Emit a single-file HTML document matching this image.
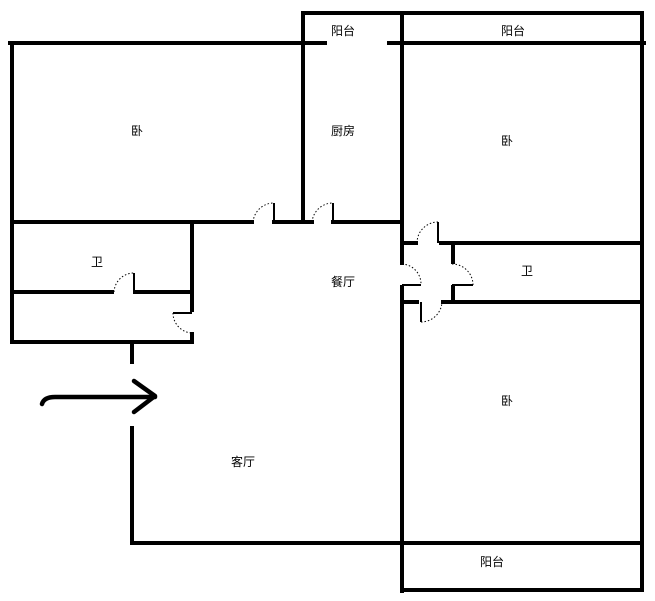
<!DOCTYPE html>
<html><head><meta charset="utf-8"><style>
body{margin:0;background:#fff}
svg{display:block}
text{font-family:"Liberation Sans","Noto Sans CJK SC",sans-serif;font-size:12px;fill:#000;text-anchor:middle;dominant-baseline:middle}
</style></head><body>
<svg width="655" height="601" viewBox="0 0 655 601" xmlns="http://www.w3.org/2000/svg">
<g stroke="#000" stroke-width="4" fill="none" stroke-linecap="square">
<path d="M303 221 V13 H642 V590 H404"/>
<path d="M10 43 H325"/><path d="M389 43 H644"/>
<path d="M402 13 V263"/><path d="M402 287 V591"/>
<path d="M12 43 V342 H192"/>
<path d="M12 222 H252"/><path d="M274 222 H312"/><path d="M333 222 H402"/>
<path d="M192 222 V310"/><path d="M192 334 V342"/>
<path d="M12 292 H112"/><path d="M135 292 H192"/>
<path d="M132 345 V362"/><path d="M132 428 V543 H642"/>
<path d="M402 243 H416"/><path d="M441 243 H642"/>
<path d="M453 243 V262"/><path d="M453 287 V302"/>
<path d="M402 302 H417"/><path d="M443 302 H642"/>
</g>
<g stroke="#000" stroke-width="2" fill="none">
<path d="M274 222 V203"/><path d="M333 222 V203"/>
<path d="M134 292 V273"/><path d="M192 313 H173"/>
<path d="M438 243 V222"/><path d="M452 285 H473"/>
<path d="M402 285 H421"/><path d="M421 302 V322"/>
</g>
<g stroke="#000" stroke-width="1" stroke-dasharray="1.5,2" fill="none">
<path d="M253 222 A21 21 0 0 1 274 203"/>
<path d="M312 222 A21 21 0 0 1 333 203"/>
<path d="M114 292 A20 20 0 0 1 134 273"/>
<path d="M173 313 A20 20 0 0 0 192 333"/>
<path d="M417 243 A21 21 0 0 1 438 222"/>
<path d="M452 264 A21 21 0 0 1 473 285"/>
<path d="M402 264 A20 20 0 0 1 421 284"/>
<path d="M421 322 A21 21 0 0 0 442 302"/>
</g>
<g stroke="#000" stroke-width="4.5" fill="none" stroke-linecap="round" stroke-linejoin="round">
<path d="M42 404 Q44 397 55 397 H155"/>
<path d="M134 381 L155 396 L134 412"/>
</g>
<text x="137" y="132">卧</text>
<text x="343" y="132">厨房</text>
<text x="507" y="142">卧</text>
<text x="97" y="263">卫</text>
<text x="343" y="283">餐厅</text>
<text x="527" y="272">卫</text>
<text x="507" y="402">卧</text>
<text x="243" y="463">客厅</text>
<text x="343" y="32">阳台</text>
<text x="513" y="32">阳台</text>
<text x="492" y="563">阳台</text>
</svg>
</body></html>
